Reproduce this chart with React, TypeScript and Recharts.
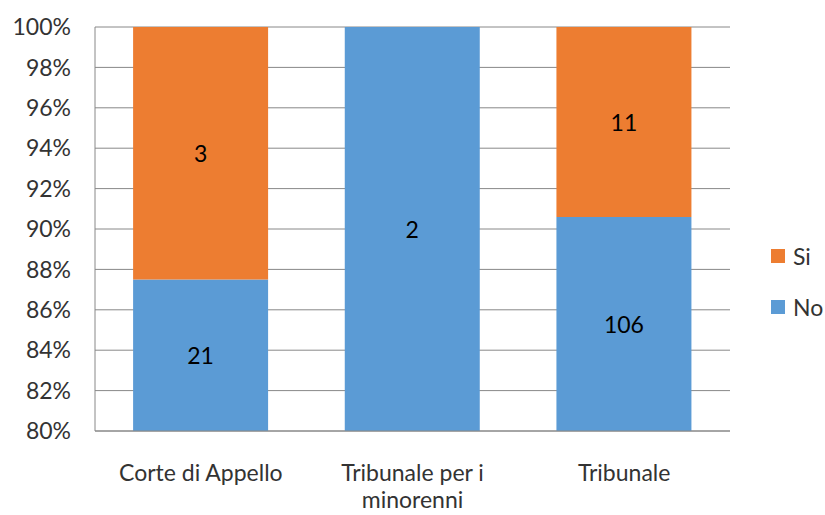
import React from 'react';
import { BarChart, Bar, XAxis, YAxis, CartesianGrid, LabelList } from 'recharts';

const categories = ['Corte di Appello', 'Tribunale per i minorenni', 'Tribunale'];
const noValues = [21, 2, 106];
const siValues = [3, 0, 11];
const yTicks = [0.8, 0.82, 0.84, 0.86, 0.88, 0.9, 0.92, 0.94, 0.96, 0.98, 1];

// 100% stacked: shares computed from the counts, counts kept for labels
const data = categories.map((name, i) => {
  const total = noValues[i] + siValues[i];
  return {
    name,
    noCount: noValues[i],
    siCount: siValues[i],
    no: noValues[i] / total,
    si: siValues[i] / total,
  };
});

const FONT = 'Lato, "Open Sans", sans-serif';
const TEXT = '#333333';
const GRID = '#888888';
const PLOT_TOP = 27;
const PLOT_BOTTOM = 431;
const FS = 23;

const wrapWords = (s: string, max: number) => {
  const lines: string[] = [];
  let cur = '';
  s.split(' ').forEach(w => {
    const next = cur ? cur + ' ' + w : w;
    if (next.length > max && cur) {
      lines.push(cur);
      cur = w;
    } else {
      cur = next;
    }
  });
  if (cur) lines.push(cur);
  return lines;
};

const BarValue = (props: any) => {
  const { x, y, width, height, value } = props;
  if (!value) return null;
  const top = Math.max(y, PLOT_TOP);
  const bottom = Math.min(y + height, PLOT_BOTTOM);
  if (bottom <= top) return null;
  return (
    <text
      x={x + width / 2}
      y={(top + bottom) / 2 + 3}
      textAnchor="middle"
      dominantBaseline="middle"
      fill="#000"
      fontSize={FS}
      fontFamily={FONT}
    >
      {value}
    </text>
  );
};

const CategoryTick = (props: any) => {
  const { x, y, payload } = props;
  const lines = wrapWords(payload.value, 16);
  return (
    <text x={x} y={y + 42} textAnchor="middle" fill={TEXT} fontSize={FS} fontFamily={FONT}>
      {lines.map((l, i) => (
        <tspan key={i} x={x} dy={i === 0 ? 0 : 27}>
          {l}
        </tspan>
      ))}
    </text>
  );
};

const legendItems = [
  { label: 'Si', color: '#ED7D31' },
  { label: 'No', color: '#5B9BD5' },
];

export default function App() {
  return (
    <div style={{ position: 'absolute', left: 0, top: 0, width: 825, height: 515, background: '#fff' }}>
      <BarChart
        width={825}
        height={515}
        data={data}
        barCategoryGap="18%"
        margin={{ top: PLOT_TOP, right: 95, bottom: 0, left: 0 }}
      >
        <CartesianGrid vertical={false} stroke={GRID} strokeWidth={1} />
        <XAxis
          dataKey="name"
          height={515 - PLOT_BOTTOM}
          axisLine={{ stroke: GRID }}
          tickLine={false}
          interval={0}
          tick={<CategoryTick />}
        />
        <YAxis
          width={95}
          type="number"
          domain={[0.8, 1]}
          ticks={yTicks}
          interval={0}
          allowDataOverflow
          axisLine={{ stroke: GRID }}
          tickLine={false}
          tickSize={0}
          tickMargin={24}
          tickFormatter={(v: number) => `${Math.round(v * 100)}%`}
          tick={{ fill: TEXT, fontSize: FS, fontFamily: FONT }}
        />
        <Bar dataKey="no" name="No" stackId="a" fill="#5B9BD5" isAnimationActive={false}>
          <LabelList dataKey="noCount" content={<BarValue />} />
        </Bar>
        <Bar dataKey="si" name="Si" stackId="a" fill="#ED7D31" isAnimationActive={false}>
          <LabelList dataKey="siCount" content={<BarValue />} />
        </Bar>
      </BarChart>
      <div style={{ position: 'absolute', left: 771, top: 243, fontFamily: FONT, fontSize: FS, color: TEXT }}>
        {legendItems.map((item, i) => (
          <div key={item.label} style={{ display: 'flex', alignItems: 'center', height: 26, marginBottom: i === 0 ? 25 : 0 }}>
            <span style={{ width: 14, height: 14, background: item.color, display: 'inline-block', marginRight: 8 }} />
            <span>{item.label}</span>
          </div>
        ))}
      </div>
    </div>
  );
}
